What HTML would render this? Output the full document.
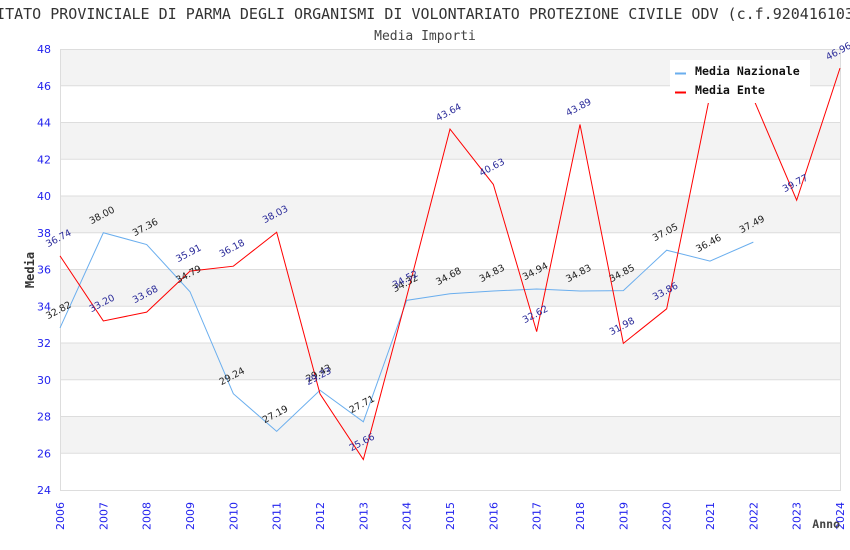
<!DOCTYPE html>
<html><head><meta charset="utf-8"><style>
html,body{margin:0;padding:0;background:#fff;}
svg{display:block;}
.yt{font-family:"DejaVu Sans","Liberation Sans",sans-serif;font-size:11px;fill:#2222ee;}
.dl{font-family:"DejaVu Sans","Liberation Sans",sans-serif;font-size:9.5px;}
.n{fill:#222;}
.e{fill:#2a2a99;}
.mono{font-family:"DejaVu Sans Mono","Liberation Mono",monospace;}
</style></head><body>
<svg width="850" height="550" viewBox="0 0 850 550" xmlns="http://www.w3.org/2000/svg">
<rect width="850" height="550" fill="#fff"/>
<text x="425" y="19" text-anchor="middle" class="mono" font-size="15" fill="#333">COMITATO PROVINCIALE DI PARMA DEGLI ORGANISMI DI VOLONTARIATO PROTEZIONE CIVILE ODV (c.f.92041610346)</text>
<text x="425" y="40" text-anchor="middle" class="mono" font-size="13" fill="#444">Media Importi</text>
<g fill="#f3f3f3">
<rect x="60" y="49" width="780" height="36.75"/>
<rect x="60" y="122.5" width="780" height="36.75"/>
<rect x="60" y="196" width="780" height="36.75"/>
<rect x="60" y="269.5" width="780" height="36.75"/>
<rect x="60" y="343" width="780" height="36.75"/>
<rect x="60" y="416.5" width="780" height="36.75"/>
</g>
<g stroke="#dddddd" stroke-width="1">
<line x1="60" y1="49.5" x2="840" y2="49.5"/>
<line x1="60" y1="85.75" x2="840" y2="85.75"/>
<line x1="60" y1="122.5" x2="840" y2="122.5"/>
<line x1="60" y1="159.25" x2="840" y2="159.25"/>
<line x1="60" y1="196" x2="840" y2="196"/>
<line x1="60" y1="232.75" x2="840" y2="232.75"/>
<line x1="60" y1="269.5" x2="840" y2="269.5"/>
<line x1="60" y1="306.25" x2="840" y2="306.25"/>
<line x1="60" y1="343" x2="840" y2="343"/>
<line x1="60" y1="379.75" x2="840" y2="379.75"/>
<line x1="60" y1="416.5" x2="840" y2="416.5"/>
<line x1="60" y1="453.25" x2="840" y2="453.25"/>
<line x1="60" y1="490.5" x2="840" y2="490.5"/>
<line x1="60.5" y1="49" x2="60.5" y2="491"/>
<line x1="840.5" y1="49" x2="840.5" y2="491"/>
</g>
<g class="yt" text-anchor="end">
<text x="51" y="53">48</text>
<text x="51" y="89.75">46</text>
<text x="51" y="126.5">44</text>
<text x="51" y="163.25">42</text>
<text x="51" y="200">40</text>
<text x="51" y="236.75">38</text>
<text x="51" y="273.5">36</text>
<text x="51" y="310.25">34</text>
<text x="51" y="347">32</text>
<text x="51" y="383.75">30</text>
<text x="51" y="420.5">28</text>
<text x="51" y="457.25">26</text>
<text x="51" y="494">24</text>
</g>
<g class="yt">
<text transform="translate(64,530) rotate(-90)">2006</text>
<text transform="translate(107.33,530) rotate(-90)">2007</text>
<text transform="translate(150.67,530) rotate(-90)">2008</text>
<text transform="translate(194,530) rotate(-90)">2009</text>
<text transform="translate(237.33,530) rotate(-90)">2010</text>
<text transform="translate(280.67,530) rotate(-90)">2011</text>
<text transform="translate(324,530) rotate(-90)">2012</text>
<text transform="translate(367.33,530) rotate(-90)">2013</text>
<text transform="translate(410.67,530) rotate(-90)">2014</text>
<text transform="translate(454,530) rotate(-90)">2015</text>
<text transform="translate(497.33,530) rotate(-90)">2016</text>
<text transform="translate(540.67,530) rotate(-90)">2017</text>
<text transform="translate(584,530) rotate(-90)">2018</text>
<text transform="translate(627.33,530) rotate(-90)">2019</text>
<text transform="translate(670.67,530) rotate(-90)">2020</text>
<text transform="translate(714,530) rotate(-90)">2021</text>
<text transform="translate(757.33,530) rotate(-90)">2022</text>
<text transform="translate(800.67,530) rotate(-90)">2023</text>
<text transform="translate(844,530) rotate(-90)">2024</text>
</g>
<text transform="translate(34,270) rotate(-90)" text-anchor="middle" class="mono" font-size="12" font-weight="bold" fill="#333">Media</text>
<text x="840" y="528" text-anchor="end" class="mono" font-size="11.5" font-weight="bold" fill="#444">Anno</text>
<polyline fill="none" stroke="#6aaeee" stroke-width="1" points="60,327.93 103.33,232.75 146.67,244.51 190,291.73 233.33,393.72 276.67,431.38 320,390.22 363.33,421.83 406.67,300.37 450,293.75 493.33,291 536.67,288.98 580,291 623.33,290.63 666.67,250.21 710,261.05 753.33,242.12"/>
<polyline fill="none" stroke="#ff0000" stroke-width="1" points="60,255.9 103.33,320.95 146.67,312.13 190,271.15 233.33,266.19 276.67,232.2 320,393.9 363.33,459.5 406.67,296.7 450,129.12 493.33,184.42 536.67,331.6 580,124.52 623.33,343.37 666.67,308.82 710,94.9 753.33,98.6 796.67,200.23 840,68.11"/>
<g class="dl n" text-anchor="middle">
<text transform="translate(60,313) rotate(-28)">32.82</text>
<text transform="translate(103.33,218) rotate(-28)">38.00</text>
<text transform="translate(146.67,230) rotate(-28)">37.36</text>
<text transform="translate(190,277) rotate(-28)">34.79</text>
<text transform="translate(233.33,379) rotate(-28)">29.24</text>
<text transform="translate(276.67,417) rotate(-28)">27.19</text>
<text transform="translate(320,376) rotate(-28)">29.43</text>
<text transform="translate(363.33,407) rotate(-28)">27.71</text>
<text transform="translate(406.67,286) rotate(-28)">34.32</text>
<text transform="translate(450,279) rotate(-28)">34.68</text>
<text transform="translate(493.33,276) rotate(-28)">34.83</text>
<text transform="translate(536.67,274) rotate(-28)">34.94</text>
<text transform="translate(580,276) rotate(-28)">34.83</text>
<text transform="translate(623.33,276) rotate(-28)">34.85</text>
<text transform="translate(666.67,235) rotate(-28)">37.05</text>
<text transform="translate(710,246) rotate(-28)">36.46</text>
<text transform="translate(753.33,227) rotate(-28)">37.49</text>
</g>
<g class="dl e" text-anchor="middle">
<text transform="translate(60,241) rotate(-28)">36.74</text>
<text transform="translate(103.33,306) rotate(-28)">33.20</text>
<text transform="translate(146.67,297) rotate(-28)">33.68</text>
<text transform="translate(190,256) rotate(-28)">35.91</text>
<text transform="translate(233.33,251) rotate(-28)">36.18</text>
<text transform="translate(276.67,217) rotate(-28)">38.03</text>
<text transform="translate(320,379) rotate(-28)">29.23</text>
<text transform="translate(363.33,445) rotate(-28)">25.66</text>
<text transform="translate(406.67,282) rotate(-28)">34.52</text>
<text transform="translate(450,115) rotate(-28)">43.64</text>
<text transform="translate(493.33,170) rotate(-28)">40.63</text>
<text transform="translate(536.67,317) rotate(-28)">32.62</text>
<text transform="translate(580,110) rotate(-28)">43.89</text>
<text transform="translate(623.33,329) rotate(-28)">31.98</text>
<text transform="translate(666.67,294) rotate(-28)">33.86</text>
<text transform="translate(710,80) rotate(-28)">45.50</text>
<text transform="translate(753.33,84) rotate(-28)">45.30</text>
<text transform="translate(796.67,186) rotate(-28)">39.77</text>
<text transform="translate(840,54) rotate(-28)">46.96</text>
</g>
<rect x="670" y="60" width="140" height="43" fill="#fff"/>
<rect x="675" y="72.5" width="11" height="2" fill="#6aaeee"/>
<rect x="675" y="91.5" width="11" height="2" fill="#ff0000"/>
<text x="695" y="75" class="mono" font-size="11.6" font-weight="bold" fill="#111">Media Nazionale</text>
<text x="695" y="94" class="mono" font-size="11.6" font-weight="bold" fill="#111">Media Ente</text>
</svg>
</body></html>
